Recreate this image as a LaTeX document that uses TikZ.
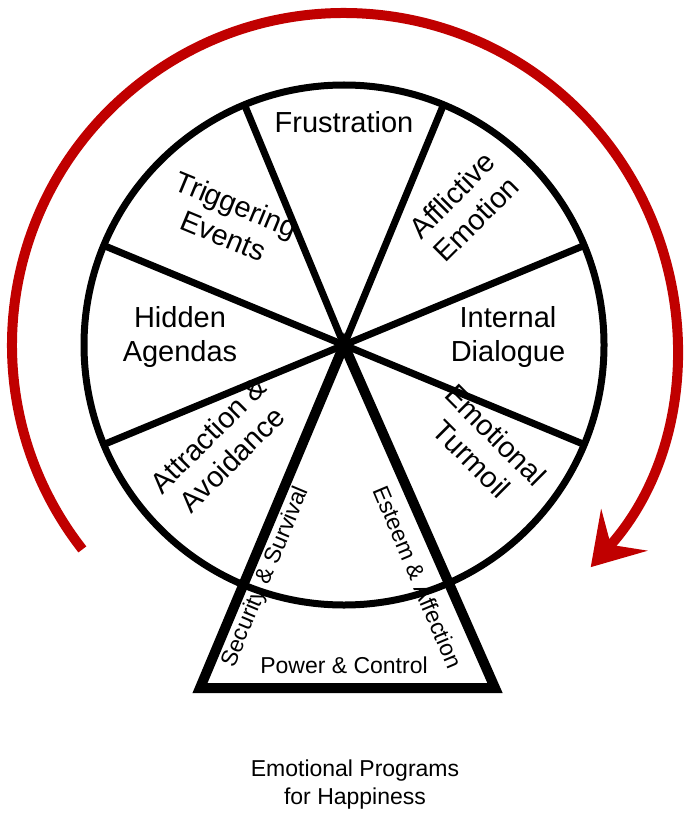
\documentclass[tikz,border=0pt]{standalone}
\usepackage{fontspec}
\setmainfont{Liberation Sans}
\usetikzlibrary{arrows.meta}
\definecolor{wheelRed}{HTML}{C00000}
\tikzstyle{spoke} = [line width=7pt, draw=black]
\tikzstyle{segText} = [font=\fontsize{29}{34}\selectfont, align=center]
\tikzstyle{smallText} = [font=\fontsize{23}{28}\selectfont, align=center]
\tikzstyle{cycleArrow} = [line width=10pt, draw=wheelRed, -{Stealth[length=50pt,width=62pt,inset=20pt]}]

\begin{document}
\begin{tikzpicture}[x=1pt,y=-1pt]
    \useasboundingbox (0,0) rectangle (689,813);
    \coordinate (hub) at (344,345);
    % red cycle
    \draw [cycleArrow] (hub) ++(142:332) arc[start angle=142, end angle=402, radius=332];
    % wheel
    \draw [spoke] (hub) circle[radius=260];
    \foreach \a in {22.5,67.5,112.5,157.5,202.5,337.5}
        \draw [spoke] (hub) -- ++(-\a:260);
    % base
    \coordinate (baseL) at (200,688);
    \coordinate (baseR) at (495,688);
    \draw [line width=10pt, line join=miter] (hub) -- (baseL) -- (baseR) -- cycle;
    % labels
    \node (frus) [segText] at (344,122) {Frustration};
    \node (trig) [segText, rotate=-22.5] at (230,220) {Triggering\\Events};
    \node (affl) [segText, rotate=45] at (464,207) {Afflictive\\Emotion};
    \node (hidden) [segText] at (180,337) {Hidden\\Agendas};
    \node (intern) [segText] at (508,337) {Internal\\Dialogue};
    \node (attr) [segText, rotate=45] at (220,447) {Attraction \&\\Avoidance};
    \node (turm) [segText, rotate=-45] at (484,447) {Emotional\\Turmoil};
    \node (secur) [smallText, rotate=67.2] at (266,577) {Security \& Survival};
    \node (esteem) [smallText, rotate=-67.2] at (418,577) {Esteem \& Affection};
    \node (power) [smallText] at (344,665) {Power \& Control};
    \node (caption) [smallText] at (355,785) {Emotional Programs\\for Happiness};
\end{tikzpicture}
\end{document}
